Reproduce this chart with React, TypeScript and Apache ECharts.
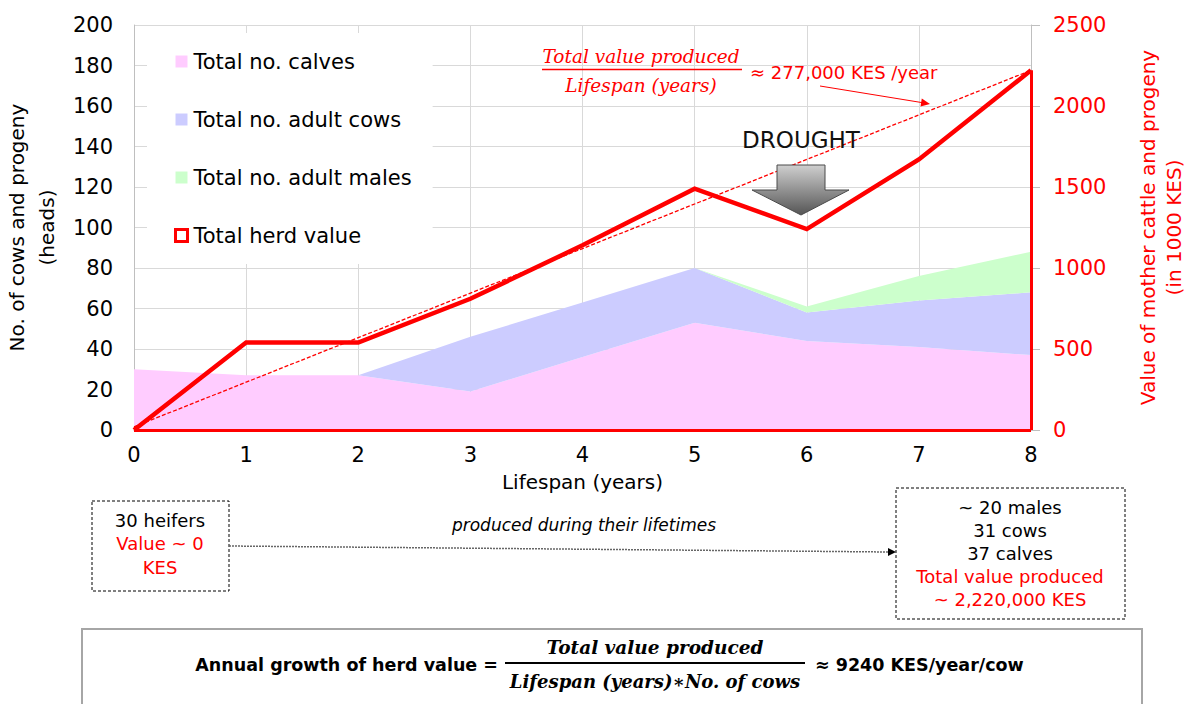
import React, { useEffect, useRef } from "react";
import * as echarts from "echarts";

// ---- data ----
const years = ["0", "1", "2", "3", "4", "5", "6", "7", "8"];
const calves = [30, 27, 27, 19, 36, 53, 44, 41, 37];
const cows = [0, 0, 0, 27, 27, 27, 14, 23, 31];
const males = [0, 0, 0, 0, 0, 0, 3, 12, 20];
const herdValue = [0, 540, 540, 810, 1140, 1490, 1240, 1670, 2220];
const trendValue = [20, null, null, null, null, null, null, null, 2220];

const leftAxis = { min: 0, max: 200, interval: 20 };
const rightAxis = { min: 0, max: 2500, interval: 500 };

const seriesNames = ["Total no. calves", "Total no. adult cows", "Total no. adult males", "Total herd value"];
const fillColors = ["#FFCCFF", "#CCCCFF", "#CCFFCC"];
const RED = "#FF0000";
const FONT = "DejaVu Sans";
const SERIF = "DejaVu Serif";

export default function App() {
  const ref = useRef<HTMLDivElement>(null);

  useEffect(() => {
    if (!ref.current) return;
    const chart = echarts.init(ref.current, undefined, { renderer: "svg" });
    const last = years.length - 1;

    const areaSeries = [calves, cows, males].map((d, i) => ({
      name: seriesNames[i],
      type: "line",
      stack: "herd",
      yAxisIndex: 0,
      data: d,
      symbol: "none",
      color: fillColors[i],
      itemStyle: { color: fillColors[i] },
      lineStyle: { width: 0, color: fillColors[i] },
      areaStyle: { color: fillColors[i], opacity: 1 },
      z: 1,
    }));

    const txt = (text: string, x: number, y: number, extra: any = {}) => ({
      type: "text",
      x,
      y,
      z: 100,
      style: {
        text,
        fill: "#000",
        fontFamily: FONT,
        fontSize: 18,
        align: "center",
        verticalAlign: "middle",
        ...extra,
      },
    });

    const option: any = {
      animation: false,
      textStyle: { fontFamily: FONT },
      grid: { left: 134, right: 159, top: 25, bottom: 274, containLabel: false, outerBoundsMode: "none" },
      legend: {
        orient: "vertical",
        left: 147,
        top: 33,
        backgroundColor: "#FFFFFF",
        padding: [18, 21, 18, 27],
        itemGap: 37,
        itemWidth: 12,
        itemHeight: 12,
        selectedMode: false,
        z: 20,
        textStyle: { fontSize: 21, color: "#000", fontFamily: FONT, lineHeight: 20, padding: [0, 0, 0, 1] },
        data: [
          { name: seriesNames[0], icon: "rect" },
          { name: seriesNames[1], icon: "rect" },
          { name: seriesNames[2], icon: "rect" },
          {
            name: seriesNames[3],
            icon: "rect",
            itemStyle: { color: "#FFFFFF", borderColor: RED, borderWidth: 3 },
          },
        ],
      },
      xAxis: {
        type: "category",
        data: years,
        boundaryGap: false,
        name: "Lifespan (years)",
        nameLocation: "middle",
        nameGap: 42,
        nameTextStyle: { fontSize: 20, color: "#000", fontFamily: FONT },
        axisLine: { show: true, lineStyle: { color: "#BFBFBF", width: 1 } },
        axisTick: { show: false },
        axisLabel: { fontSize: 21, color: "#000", margin: 14, fontFamily: FONT },
        splitLine: { show: true, interval: 0, lineStyle: { color: "#D9D9D9", width: 1 } },
      },
      yAxis: [
        {
          type: "value",
          position: "left",
          ...leftAxis,
          name: "No. of cows and progeny\n(heads)",
          nameLocation: "middle",
          nameRotate: 90,
          nameGap: 72,
          nameTextStyle: { fontSize: 20, color: "#000", fontFamily: FONT, lineHeight: 30 },
          axisLine: { show: true, lineStyle: { color: "#BFBFBF", width: 1 } },
          axisTick: { show: false },
          axisLabel: { fontSize: 21, color: "#000", margin: 21, fontFamily: FONT },
          splitLine: { show: true, lineStyle: { color: "#D9D9D9", width: 1 } },
        },
        {
          type: "value",
          position: "right",
          ...rightAxis,
          name: "Value of mother cattle and progeny\n(in 1000 KES)",
          nameLocation: "middle",
          nameRotate: 90,
          nameGap: 104,
          nameTextStyle: { fontSize: 20, color: RED, fontFamily: FONT, lineHeight: 26 },
          axisLine: { show: true, lineStyle: { color: "#BFBFBF", width: 1 } },
          axisTick: { show: true, inside: false, length: 9, lineStyle: { color: "#BFBFBF" } },
          axisLabel: { fontSize: 21, color: RED, margin: 22, fontFamily: FONT, formatter: (v: number) => String(v) },
          splitLine: { show: false },
        },
      ],
      series: [
        ...areaSeries,
        {
          name: "trend",
          type: "line",
          yAxisIndex: 1,
          data: trendValue,
          connectNulls: true,
          symbol: "none",
          lineStyle: { color: RED, width: 1.3, type: [4, 2] },
          z: 3,
        },
        {
          name: seriesNames[3],
          type: "line",
          yAxisIndex: 1,
          data: herdValue,
          symbol: "none",
          color: RED,
          itemStyle: { color: RED },
          lineStyle: { color: RED, width: 4.5, join: "miter" },
          z: 4,
          markLine: {
            silent: true,
            symbol: ["none", "none"],
            label: { show: false },
            lineStyle: { color: RED, width: 3, type: "solid" },
            data: [
              [{ coord: [years[last], herdValue[last]] }, { coord: [years[last], 0] }],
              [{ coord: [years[0], 0] }, { coord: [years[last], 0] }],
            ],
          },
        },
      ],
      graphic: [
        // Top formula (red)
        txt("Total value produced", 641, 56, { fill: RED, fontFamily: SERIF, fontStyle: "italic", fontSize: 18.5 }),
        { type: "line", z: 100, shape: { x1: 542, y1: 69.5, x2: 742, y2: 69.5 }, style: { stroke: RED, lineWidth: 1.5 } },
        txt("Lifespan (years)", 641, 85, { fill: RED, fontFamily: SERIF, fontStyle: "italic", fontSize: 18.5 }),
        txt("≈ 277,000 KES /year", 750, 72, { fill: RED, align: "left", fontSize: 18 }),
        { type: "line", z: 100, shape: { x1: 820, y1: 86, x2: 922, y2: 102.6 }, style: { stroke: RED, lineWidth: 1 } },
        {
          type: "polygon",
          z: 100,
          shape: { points: [[930, 104], [920.5, 106.5], [921.8, 98.6]] },
          style: { fill: RED },
        },
        // Drought
        txt("DROUGHT", 801, 140, {
          fontSize: 23,
          fill: "#111",
          shadowBlur: 4,
          shadowColor: "rgba(0,0,0,0.45)",
          shadowOffsetX: 1,
          shadowOffsetY: 2,
        }),
        {
          type: "polygon",
          z: 100,
          shape: {
            points: [[777, 165], [825, 165], [825, 190], [849, 190], [801, 215], [752, 190], [777, 190]],
          },
          style: {
            fill: {
              type: "linear", x: 0, y: 0, x2: 0, y2: 1,
              colorStops: [
                { offset: 0, color: "#CFCFCF" },
                { offset: 1, color: "#555555" },
              ],
            },
            stroke: "#4A4A4A",
            lineWidth: 1,
          },
        },
        // Left box
        { type: "rect", z: 100, shape: { x: 92, y: 501, width: 137, height: 90 }, style: { fill: "none", stroke: "#000", lineWidth: 1, lineDash: [3, 2] } },
        txt("30 heifers", 160, 520),
        txt("Value ~ 0", 160, 543, { fill: RED }),
        txt("KES", 160, 567, { fill: RED }),
        // Dotted arrow
        { type: "line", z: 100, shape: { x1: 229, y1: 546, x2: 889, y2: 552 }, style: { stroke: "#666", lineWidth: 1.5, lineDash: [2, 1] } },
        { type: "polygon", z: 100, shape: { points: [[896, 552], [888, 548], [888, 556]] }, style: { fill: "#000" } },
        txt("produced during their lifetimes", 584, 525, { fontStyle: "italic", fontSize: 17 }),
        // Right box
        { type: "rect", z: 100, shape: { x: 896, y: 488, width: 229, height: 131 }, style: { fill: "none", stroke: "#000", lineWidth: 1, lineDash: [3, 2] } },
        txt("~ 20 males", 1010, 507),
        txt("31 cows", 1010, 530),
        txt("37 calves", 1010, 553),
        txt("Total value produced", 1010, 576, { fill: RED }),
        txt("~ 2,220,000 KES", 1010, 599, { fill: RED }),
        // Bottom formula box
        { type: "rect", z: 100, shape: { x: 82, y: 629, width: 1060, height: 90 }, style: { fill: "none", stroke: "#A6A6A6", lineWidth: 2 } },
        txt("Annual growth of herd value =", 498, 665, { align: "right", fontWeight: "bold", fontSize: 17.5 }),
        txt("Total value produced", 655, 647, { fontFamily: SERIF, fontStyle: "italic", fontWeight: "bold", fontSize: 18.5 }),
        { type: "line", z: 100, shape: { x1: 505, y1: 663, x2: 805, y2: 663 }, style: { stroke: "#000", lineWidth: 2 } },
        txt("Lifespan (years)∗No. of cows", 655, 681, { fontFamily: SERIF, fontStyle: "italic", fontWeight: "bold", fontSize: 18 }),
        txt("≈ 9240 KES/year/cow", 815, 665, { align: "left", fontWeight: "bold", fontSize: 17.5 }),
      ],
    };

    chart.setOption(option);
    return () => chart.dispose();
  }, []);

  return (
    <div
      ref={ref}
      style={{ position: "fixed", left: 0, top: 0, width: 1190, height: 704, background: "#fff" }}
    />
  );
}
